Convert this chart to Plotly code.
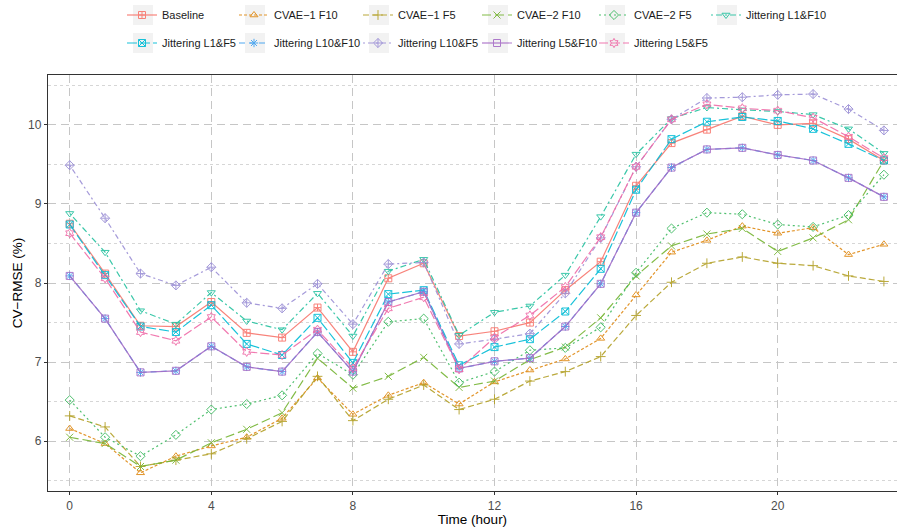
import plotly.graph_objects as go

# ---- data: CV-RMSE (%) by hour of day for each method ----
hours = list(range(24))

baseline = [8.75, 8.12, 7.46, 7.45, 7.76, 7.37, 7.31, 7.69, 7.13, 8.06, 8.25, 7.33,
            7.39, 7.50, 7.91, 8.27, 9.23, 9.77, 9.94, 10.11, 10.00, 10.02, 9.82, 9.55]
cvae1_f10 = [6.16, 5.97, 5.60, 5.81, 5.94, 6.05, 6.29, 6.80, 6.34, 6.58, 6.74, 6.47,
             6.75, 6.90, 7.04, 7.30, 7.85, 8.39, 8.54, 8.72, 8.63, 8.70, 8.36, 8.49]
cvae1_f5 = [6.32, 6.18, 5.68, 5.76, 5.84, 6.03, 6.25, 6.82, 6.26, 6.53, 6.71, 6.40,
            6.53, 6.76, 6.88, 7.07, 7.59, 8.01, 8.25, 8.33, 8.25, 8.22, 8.09, 8.02]
cvae2_f10 = [6.05, 5.97, 5.68, 5.76, 5.98, 6.15, 6.36, 7.05, 6.67, 6.82, 7.06, 6.68,
             6.76, 7.03, 7.19, 7.56, 8.09, 8.47, 8.62, 8.69, 8.40, 8.57, 8.80, 9.55]
cvae2_f5 = [6.52, 6.05, 5.81, 6.08, 6.40, 6.47, 6.58, 7.11, 6.84, 7.51, 7.55, 6.74,
            6.88, 7.15, 7.18, 7.44, 8.13, 8.69, 8.89, 8.87, 8.74, 8.71, 8.86, 9.37]
jit_l1_f10 = [8.88, 8.39, 7.65, 7.48, 7.88, 7.52, 7.41, 7.87, 7.33, 8.15, 8.30, 7.34,
              7.63, 7.71, 8.10, 8.84, 9.63, 10.08, 10.22, 10.19, 10.17, 10.13, 9.95, 9.64]
jit_l1_f5 = [8.74, 8.10, 7.45, 7.38, 7.72, 7.23, 7.09, 7.56, 6.99, 7.86, 7.91, 6.96,
             7.19, 7.29, 7.64, 8.18, 9.18, 9.82, 10.04, 10.10, 10.05, 9.95, 9.76, 9.55]
jit_l10_f10 = [8.09, 7.55, 6.87, 6.89, 7.20, 6.94, 6.88, 7.38, 6.88, 7.76, 7.89, 6.92,
               7.01, 7.05, 7.45, 7.99, 8.89, 9.46, 9.69, 9.71, 9.62, 9.55, 9.33, 9.09]
jit_l10_f5 = [9.49, 8.82, 8.12, 7.97, 8.20, 7.75, 7.68, 7.99, 7.48, 8.24, 8.26, 7.23,
              7.29, 7.36, 7.87, 8.57, 9.47, 10.07, 10.34, 10.35, 10.38, 10.39, 10.20, 9.93]
jit_l5_f10 = [8.09, 7.55, 6.87, 6.89, 7.20, 6.94, 6.88, 7.38, 6.88, 7.76, 7.89, 6.92,
              7.01, 7.05, 7.45, 7.99, 8.89, 9.46, 9.69, 9.71, 9.62, 9.55, 9.33, 9.09]
jit_l5_f5 = [8.63, 8.06, 7.38, 7.27, 7.57, 7.13, 7.09, 7.41, 6.92, 7.68, 7.82, 6.91,
             7.31, 7.59, 7.95, 8.58, 9.47, 10.07, 10.26, 10.21, 10.18, 10.09, 9.85, 9.58]

x_ticks = [0, 4, 8, 12, 16, 20]
y_ticks = [6, 7, 8, 9, 10]
y_minor = [5.5, 6.5, 7.5, 8.5, 9.5, 10.5]

# ---- styling per series: (label, values, colour, marker, dash, legend row, legend column width) ----
series = [
    ("Baseline", baseline, "#F8766D", "square-cross-open", "solid", "legend", 67),
    ("CVAE\u22121 F10", cvae1_f10, "#E08A14", "triangle-up-open", "3px,2px", "legend", 79),
    ("CVAE\u22121 F5", cvae1_f5, "#B3A026", "cross-thin-open", "6px,3px", "legend", 74),
    ("CVAE\u22122 F10", cvae2_f10, "#76B534", "x-thin-open", "9px,4px", "legend", 72),
    ("CVAE\u22122 F5", cvae2_f5, "#3DBA60", "diamond-open", "2px,3px", "legend", 67),
    ("Jittering L1&F10", jit_l1_f10, "#25C2A0", "triangle-down-open", "2px,3px,6px,3px", "legend", 100),
    ("Jittering L1&F5", jit_l1_f5, "#00BCD6", "square-x-open", "10px,3px", "legend2", 67),
    ("Jittering L10&F10", jit_l10_f10, "#3FA0F0", "asterisk-open", "6px,4px", "legend2", 79),
    ("Jittering L10&F5", jit_l10_f5, "#9C90D6", "diamond-cross-open", "2px,3px,5px,3px", "legend2", 74),
    ("Jittering L5&F10", jit_l5_f10, "#A66CC6", "square-open", "solid", "legend2", 72),
    ("Jittering L5&F5", jit_l5_f5, "#F06BA8", "hexagram-open", "9px,3px", "legend2", 100),
]

FONT = "Liberation Sans, Arial, sans-serif"

fig = go.Figure()
for name, vals, color, symbol, dash, leg, lw in series:
    fig.add_trace(go.Scatter(
        x=hours, y=vals, name=name, mode="lines+markers",
        line=dict(color=color, width=1.2, dash=dash),
        marker=dict(symbol=symbol, size=7, color=color, line=dict(width=1, color=color)),
        opacity=0.9,
        legend=leg, legendwidth=lw,
    ))

# light grey key backgrounds behind the legend symbols
W, H = 897, 527
ML, MR, MT, MB = 48, 0, 75, 36
pw, ph = W - ML - MR, H - MT - MB


def px_x(p):
    return (p - ML) / pw


def px_y(p):
    return 1 - (p - MT) / ph


key_centres_x = [143, 255, 379, 498, 615, 727]
key_rows_y = [15, 43]
shapes = []
for r, cy in enumerate(key_rows_y):
    n = 6 if r == 0 else 5
    for cx in key_centres_x[:n]:
        shapes.append(dict(type="rect", xref="paper", yref="paper",
                           x0=px_x(cx - 10), x1=px_x(cx + 10),
                           y0=px_y(cy + 10), y1=px_y(cy - 10),
                           fillcolor="#F2F2F2", line=dict(width=0), layer="below"))

legend_common = dict(orientation="h", xanchor="left", yanchor="middle",
                     font=dict(family=FONT, size=11, color="#1A1A1A"),
                     bgcolor="rgba(0,0,0,0)", borderwidth=0,
                     tracegroupgap=0, entrywidthmode="pixels")

fig.update_layout(
    width=W, height=H,
    margin=dict(l=ML, r=MR, t=MT, b=MB, pad=0),
    paper_bgcolor="white", plot_bgcolor="white",
    font=dict(family=FONT),
    shapes=shapes,
    legend=dict(x=px_x(122), y=px_y(15), **legend_common),
    legend2=dict(x=px_x(122), y=px_y(43), **legend_common),
    xaxis=dict(
        range=[-0.613, 23.37], tickvals=x_ticks,
        ticks="outside", ticklen=3, tickwidth=1, tickcolor="#333333",
        showline=True, linecolor="#333333", linewidth=1.4, mirror=True,
        showgrid=True, gridcolor="#C6C6C6", gridwidth=1.3, griddash="8px,5px",
        zeroline=False,
        tickfont=dict(family=FONT, size=12, color="#4D4D4D"),
        title=dict(text="Time (hour)", font=dict(family=FONT, size=13.5, color="#000000"), standoff=3),
    ),
    yaxis=dict(
        range=[5.37, 10.631], tickvals=y_ticks,
        ticks="outside", ticklen=3, tickwidth=1, tickcolor="#333333",
        showline=True, linecolor="#333333", linewidth=1.4,
        showgrid=True, gridcolor="#C6C6C6", gridwidth=1.3, griddash="8px,5px",
        minor=dict(tickvals=y_minor, showgrid=True, gridcolor="#D6D6D6",
                   gridwidth=1, griddash="3px,3px"),
        zeroline=False,
        tickfont=dict(family=FONT, size=12, color="#4D4D4D"),
        title=dict(text="CV\u2212RMSE (%)", font=dict(family=FONT, size=13.5, color="#000000"), standoff=2),
    ),
)

fig.write_html("out.html")
